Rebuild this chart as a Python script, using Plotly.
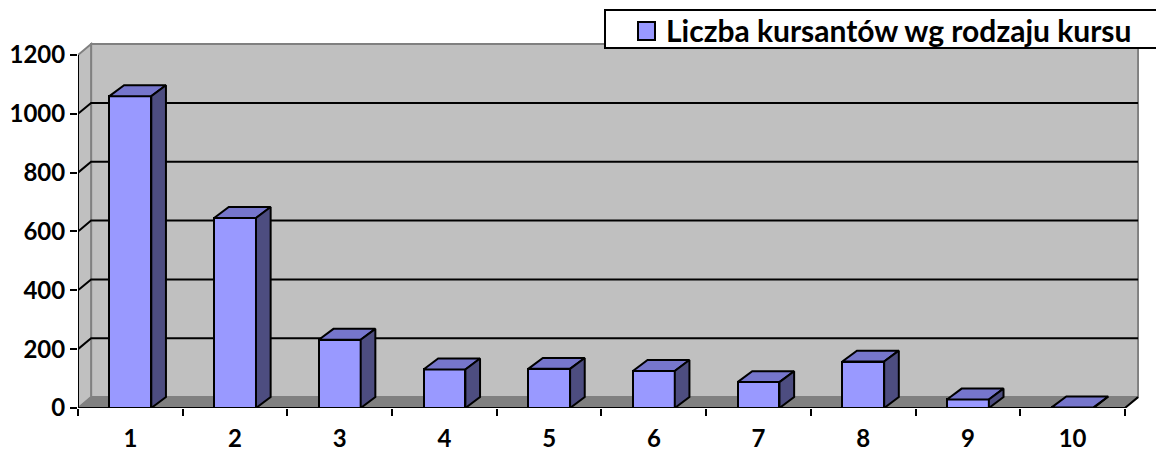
import plotly.graph_objects as go

categories = [1, 2, 3, 4, 5, 6, 7, 8, 9, 10]
values = [1060, 646, 232, 131, 133, 126, 88, 158, 29, 2]
series_name = "Liczba kursantów wg rodzaju kursu"
y_ticks = [0, 200, 400, 600, 800, 1000, 1200]

FRONT = "#9999FF"
TOP = "#7676CC"
SIDE = "#4D4D80"
WALL = "#C0C0C0"
FLOOR = "#808080"

W, H = 1156, 452
ML, MR, MT, MB = 78, 17, 42, 44
PW, PH = W - ML - MR, H - MT - MB

bw = 0.4      # bar width (category units)
dxb = 0.14    # bar depth offset x
dyb = 37.0    # bar depth offset y (value units)
dxw = 0.125   # wall depth offset x
dyw = 37.0    # wall depth offset y
x_lo, x_hi = 0.5, 10.5
y_top = 1244
AXFONT = dict(family="Lato", size=24, color="black", weight="bold")
LGFONT = dict(family="Lato", size=30, color="black", weight="bold")


def px_x(p):
    return (p - ML) / PW


def px_y(p):
    return (H - MB - p) / PH


fig = go.Figure()

# front faces
fig.add_trace(go.Bar(
    x=categories, y=values, width=bw, name=series_name, showlegend=False,
    marker=dict(color=FRONT, line=dict(color="black", width=2)),
))

# top and side faces computed from the data
tx, ty, sx, sy = [], [], [], []
for c, v in zip(categories, values):
    l, r = c - bw / 2, c + bw / 2
    tx += [l, r, r + dxb, l + dxb, l, None]
    ty += [v, v, v + dyb, v + dyb, v, None]
    sx += [r, r + dxb, r + dxb, r, r, None]
    sy += [0, dyb, v + dyb, v, 0, None]
fig.add_trace(go.Scatter(x=tx, y=ty, mode="lines", fill="toself", fillcolor=TOP,
                         line=dict(color="black", width=2), showlegend=False, hoverinfo="skip"))
fig.add_trace(go.Scatter(x=sx, y=sy, mode="lines", fill="toself", fillcolor=SIDE,
                         line=dict(color="black", width=2), showlegend=False, hoverinfo="skip"))

shapes = []
# back wall
shapes.append(dict(type="rect", xref="x", yref="y", x0=x_lo + dxw, x1=x_hi + dxw,
                   y0=dyw, y1=1200 + dyw, fillcolor=WALL,
                   line=dict(color="#808080", width=2), layer="below"))
# left wall
shapes.append(dict(type="path", xref="x", yref="y",
                   path=f"M {x_lo},0 L {x_lo+dxw},{dyw} L {x_lo+dxw},{1200+dyw} L {x_lo},1200 Z",
                   fillcolor=WALL, line=dict(color="#808080", width=2), layer="below"))
# floor
shapes.append(dict(type="path", xref="x", yref="y",
                   path=f"M {x_lo},0 L {x_hi},0 L {x_hi+dxw},{dyw} L {x_lo+dxw},{dyw} Z",
                   fillcolor=FLOOR, line=dict(color=FLOOR, width=1), layer="below"))
# gridlines
for v in y_ticks[1:-1]:
    shapes.append(dict(type="path", xref="x", yref="y",
                       path=f"M {x_lo},{v} L {x_lo+dxw},{v+dyw} L {x_hi+dxw},{v+dyw}",
                       line=dict(color="black", width=2), layer="below"))
# axis lines
shapes.append(dict(type="line", xref="x", yref="y", x0=x_lo, x1=x_lo, y0=0, y1=1200,
                   line=dict(color="black", width=2), layer="below"))
shapes.append(dict(type="path", xref="x", yref="y",
                   path=f"M {x_lo},0 L {x_hi},0 L {x_hi+dxw},{dyw}",
                   line=dict(color="black", width=2), layer="below"))
# legend box and key
shapes.append(dict(type="rect", xref="paper", yref="paper",
                   x0=px_x(605), x1=px_x(1170), y0=px_y(48), y1=px_y(10),
                   fillcolor="white", line=dict(color="black", width=2), layer="above"))
shapes.append(dict(type="rect", xref="paper", yref="paper",
                   x0=px_x(638), x1=px_x(655), y0=px_y(40), y1=px_y(22),
                   fillcolor=FRONT, line=dict(color="black", width=2), layer="above"))

annotations = [dict(text=series_name, xref="paper", yref="paper",
                    x=px_x(664), y=px_y(30), xanchor="left", yanchor="middle",
                    showarrow=False, font=LGFONT)]

fig.update_layout(
    width=W, height=H,
    margin=dict(l=ML, r=MR, t=MT, b=MB, autoexpand=False),
    paper_bgcolor="white", plot_bgcolor="white",
    shapes=shapes,
    annotations=annotations,
    bargap=0,
    font=AXFONT,
    showlegend=False,
    xaxis=dict(range=[x_lo, x_hi + 0.134], tickvals=categories, ticktext=[str(c) for c in categories],
               ticks="", showline=False, showgrid=False, zeroline=False, automargin=False,
               tickfont=AXFONT, ticklabelstandoff=14),
    xaxis2=dict(overlaying="x", matches="x", anchor="y", side="bottom",
                tickvals=[c - 0.5 for c in categories] + [categories[-1] + 0.5],
                showticklabels=False, ticks="outside", ticklen=7, tickwidth=2, automargin=False,
                tickcolor="black", showline=False, showgrid=False, zeroline=False),
    yaxis=dict(range=[0, y_top], tickvals=y_ticks, ticks="outside", ticklen=7, tickwidth=2,
               tickcolor="black", showline=False, showgrid=False, zeroline=False,
               automargin=False, tickfont=AXFONT),
)
# dummy trace to activate xaxis2
fig.add_trace(go.Scatter(x=[None], y=[None], xaxis="x2", showlegend=False, hoverinfo="skip"))

fig.write_html("out.html", config={"displayModeBar": False},
               post_script="document.body.style.margin='0px';")
